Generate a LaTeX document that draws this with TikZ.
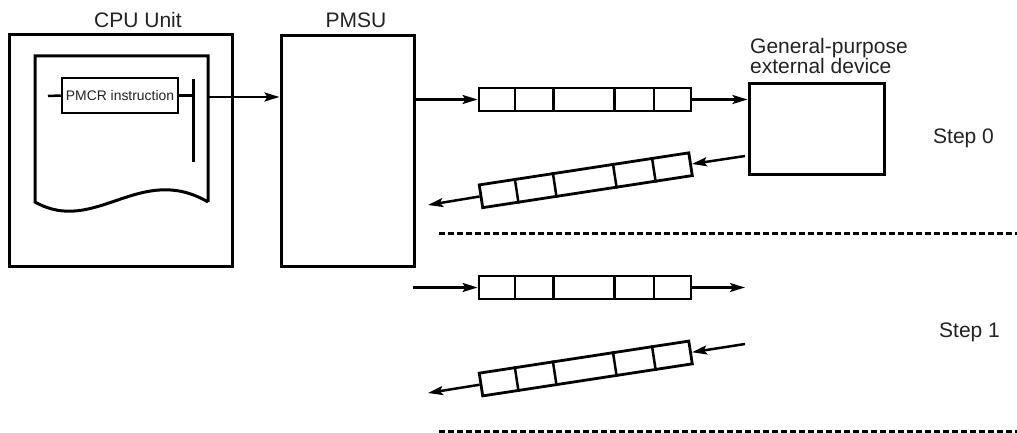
\documentclass[tikz,border=0pt]{standalone}
\usepackage{fontspec}
\setmainfont{Liberation Sans}
\usetikzlibrary{arrows.meta,calc}
\definecolor{txt}{HTML}{222222}
\begin{document}
\begin{tikzpicture}[x=1pt,y=-1pt,
  box/.style={draw,line width=3pt,inner sep=0pt},
  frame/.style={draw,line width=2.8pt,minimum width=212pt,minimum height=23pt,inner sep=0pt},
  conn/.style={line width=2.5pt,-{Stealth[length=15pt,width=9pt,inset=3pt]}},
  lbl/.style={font=\fontsize{21}{20}\selectfont,text=txt,inner sep=0pt},
  sep/.style={line width=3pt,dash pattern=on 6pt off 3pt}]
\useasboundingbox (0,0) rectangle (1017,433);

% CPU unit
\node[box,minimum width=223pt,minimum height=231pt] (cpu) at (120.5,150.5) {};
\draw[line width=3pt,line join=miter] (208,202) -- (208,56) -- (35,56) -- (35,202)
  .. controls (95,236) and (140,162) .. (208,202);
\node[draw,line width=2.5pt,inner sep=0pt,minimum width=116pt,minimum height=35pt,
  font=\fontsize{13.9}{14}\selectfont,text=txt] (pmcr) at (120,95.5) {PMCR instruction};
\coordinate (rl) at (48,96);
\coordinate (barT) at (193,79);
\coordinate (barB) at (193,162);
\coordinate (docR) at (208,97);
\draw[line width=2.5pt] (rl) -- (pmcr.west);
\draw[line width=2.5pt] (pmcr.east) -- (pmcr.east -| barT);
\draw[line width=3pt] (barT) -- (barB);

% PMSU
\node[box,minimum width=133pt,minimum height=230pt] (pmsu) at (347.5,151) {};
\draw[conn] (docR) -- (pmsu.west |- docR);

% external device
\node[box,minimum width=135pt,minimum height=90pt] (ext) at (816.5,129) {};

% frames
\node[frame] (f1) at (585,99.5) {};
\node[frame,rotate=8.7] (r1) at (585.75,180.25) {};
\node[frame] (f2) at (585,287.5) {};
\node[frame,rotate=8.7] (r2) at (585.75,368.5) {};
\foreach \n in {f1,r1,f2,r2}{
  \foreach \o in {37,75,135,174}{
    \draw[line width=2.5pt] ($(\n.south west)!\o/212!(\n.south east)$) -- ($(\n.north west)!\o/212!(\n.north east)$);
  }
}

% step 0 connectors
\draw[conn] (pmsu.east |- f1.west) -- (f1.west);
\draw[conn] (f1.east) -- (ext.west |- f1.east);
\coordinate (e2) at (745,156);
\coordinate (o1) at (428,205);
\draw[conn] (e2) -- (r1.east);
\draw[conn] (r1.west) -- (o1);

% step 1 connectors
\coordinate (i2) at (413,287.5);
\coordinate (o2) at (745,287.5);
\coordinate (e3) at (745,344);
\coordinate (o3) at (428,393);
\draw[conn] (i2) -- (f2.west);
\draw[conn] (f2.east) -- (o2);
\draw[conn] (e3) -- (r2.east);
\draw[conn] (r2.west) -- (o3);

% separators
\coordinate (d1a) at (439,233);
\coordinate (d1b) at (1017,233);
\coordinate (d2a) at (439,431);
\coordinate (d2b) at (1017,431);
\draw[sep] (d1a) -- (d1b);
\draw[sep] (d2a) -- (d2b);

% labels
\node[lbl,anchor=base] (lcpu) at (138,28) {CPU Unit};
\node[lbl,anchor=base] (lpmsu) at (356,28) {PMSU};
\node[lbl,anchor=base west] (lext1) at (750,54) {General-purpose};
\node[lbl,anchor=base west] (lext2) at (750,74) {external device};
\node[lbl,anchor=base west] (ls0) at (933,143) {Step 0};
\node[lbl,anchor=base west] (ls1) at (939,337) {Step 1};
\end{tikzpicture}
\end{document}
